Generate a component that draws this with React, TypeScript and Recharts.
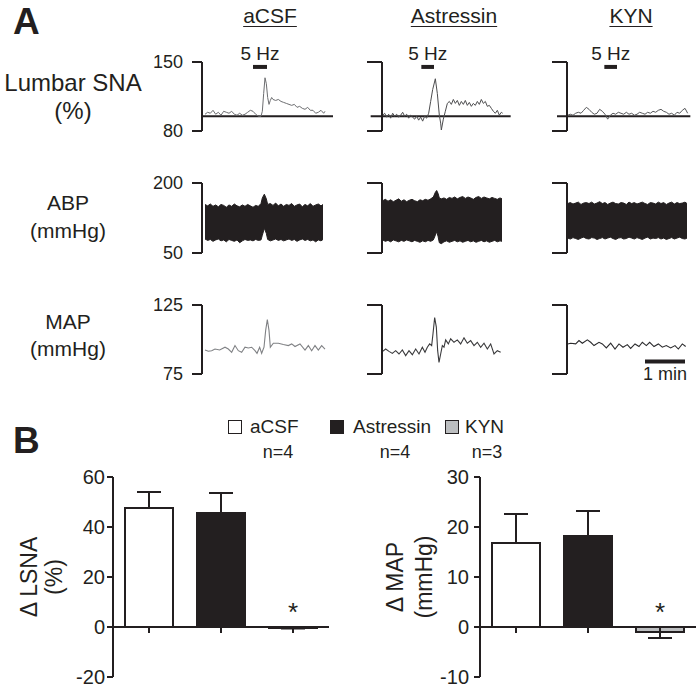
import React from 'react';
import {
  ComposedChart, Line, Area, XAxis, YAxis, ReferenceLine,
  BarChart, Bar, ErrorBar, LabelList, Cell,
} from 'recharts';

const FONT = '"Liberation Sans", Arial, Helvetica, sans-serif';
const INK = '#231f20';

// ---------------- Panel A: values ----------------
const conditions = ['aCSF', 'Astressin', 'KYN'];
const snaDomain: [number, number] = [80, 150];
const abpDomain: [number, number] = [50, 200];
const mapDomain: [number, number] = [75, 125];
const snaTicks = [80, 150];
const abpTicks = [50, 200];
const mapTicks = [75, 125];
const snaBaseline = 95;
const stimLevel = 145;
const stimLabel = '5 Hz';
const stimWindows: [number, number][] = [[72, 93], [58, 77], [55, 74]];
const baselineSpans: [number, number][] = [[-3, 192], [-18, 192], [-16, 184]];
const scaleBarSpan: [number, number] = [116, 176];
const scaleBarLevel = 84;
const scaleBarLabel = '1 min';

// Lumbar SNA (%) traces: [time s, value]
const snaACSF: [number, number][] = [
  [0, 97], [4, 99], [8, 98], [12, 101], [16, 97], [20, 99], [24, 96], [28, 100], [32, 99], [36, 98],
  [40, 100], [44, 97], [48, 96], [52, 98], [56, 96], [60, 97], [64, 99], [68, 101], [72, 100], [76, 97],
  [80, 95], [84, 95], [86, 100], [88, 118], [90, 134], [92, 128], [94, 114], [96, 107], [98, 111], [100, 114],
  [102, 112], [106, 111], [110, 112], [114, 110], [118, 109], [122, 108], [126, 107], [130, 106], [134, 107], [138, 104],
  [142, 105], [146, 103], [150, 102], [154, 104], [158, 101], [162, 101], [166, 98], [170, 99], [174, 101], [178, 98], [180, 100],
];
const snaAstressin: [number, number][] = [
  [0, 96], [3, 98], [6, 94], [9, 97], [12, 93], [15, 98], [18, 95], [21, 97], [24, 94], [27, 96],
  [30, 99], [33, 95], [36, 97], [39, 93], [42, 96], [45, 94], [48, 92], [51, 95], [54, 91], [57, 94],
  [60, 90], [63, 95], [66, 93], [69, 98], [72, 110], [75, 122], [79, 133], [82, 118], [85, 96], [87, 88],
  [88, 81], [91, 92], [94, 100], [97, 108], [100, 110], [103, 107], [106, 112], [109, 108], [112, 111], [115, 106],
  [118, 110], [121, 107], [124, 111], [127, 106], [130, 109], [133, 105], [136, 108], [139, 106], [142, 110], [145, 107],
  [148, 112], [151, 108], [154, 110], [157, 105], [160, 106], [163, 103], [166, 100], [169, 98], [172, 101], [175, 96], [178, 99], [180, 98],
];
const snaKYN: [number, number][] = [
  [0, 96], [4, 97], [8, 96], [12, 98], [16, 99], [20, 98], [24, 101], [28, 104], [32, 102], [36, 99],
  [40, 97], [44, 98], [48, 102], [52, 100], [56, 97], [60, 92], [64, 96], [68, 98], [72, 97], [76, 99],
  [80, 98], [84, 97], [88, 99], [92, 97], [96, 98], [100, 96], [104, 97], [108, 99], [112, 98], [116, 97],
  [120, 99], [124, 98], [128, 100], [132, 99], [136, 101], [140, 102], [144, 100], [148, 99], [152, 97], [156, 98],
  [160, 96], [164, 99], [168, 98], [172, 101], [176, 103], [180, 98],
];

// ABP (mmHg) envelopes: time, lower edge, upper edge
const abpACSF_t = [0, 4, 8, 12, 16, 20, 24, 28, 32, 36, 40, 44, 48, 52, 56, 60, 64, 68, 72, 76, 80, 84, 86, 89, 92, 94, 98, 102, 106, 110, 114, 118, 122, 126, 130, 134, 138, 142, 146, 150, 154, 158, 162, 166, 170, 174, 177];
const abpACSF_hi = [154, 151, 155, 150, 153, 149, 154, 152, 148, 153, 150, 155, 151, 149, 153, 150, 154, 151, 148, 152, 150, 156, 168, 176, 166, 154, 156, 152, 157, 151, 155, 150, 154, 152, 156, 150, 153, 155, 149, 154, 151, 156, 150, 153, 155, 151, 154];
const abpACSF_lo = [80, 77, 79, 75, 78, 80, 76, 78, 74, 79, 77, 75, 78, 72, 76, 79, 77, 78, 76, 79, 77, 78, 88, 103, 92, 79, 76, 78, 80, 77, 79, 76, 78, 80, 77, 79, 75, 78, 80, 77, 79, 76, 78, 74, 78, 76, 79];
const abpAst_t = [0, 4, 8, 12, 16, 20, 24, 28, 32, 36, 40, 44, 48, 52, 56, 60, 64, 68, 72, 76, 79, 81, 83, 85, 88, 92, 96, 100, 104, 108, 112, 116, 120, 124, 128, 132, 136, 140, 144, 148, 152, 156, 160, 164, 168, 172, 176, 179];
const abpAst_hi = [162, 165, 161, 164, 160, 163, 166, 161, 164, 160, 163, 165, 162, 160, 164, 162, 165, 163, 166, 170, 180, 184, 178, 168, 166, 168, 165, 169, 167, 170, 166, 169, 171, 167, 170, 168, 165, 169, 171, 167, 170, 168, 166, 169, 167, 165, 168, 166];
const abpAst_lo = [78, 75, 77, 74, 78, 76, 74, 77, 75, 78, 76, 74, 77, 75, 73, 76, 74, 77, 75, 78, 88, 96, 86, 72, 70, 74, 76, 73, 75, 77, 74, 76, 73, 75, 77, 74, 76, 73, 75, 77, 74, 76, 73, 75, 77, 74, 76, 75];
const abpKYN_t = [0, 4, 8, 12, 16, 20, 24, 28, 32, 36, 40, 44, 48, 52, 56, 60, 64, 68, 72, 76, 80, 84, 88, 92, 96, 100, 104, 108, 112, 116, 120, 124, 128, 132, 136, 140, 144, 148, 152, 156, 160, 164, 168, 172, 176, 179];
const abpKYN_hi = [156, 158, 155, 157, 159, 154, 157, 158, 156, 159, 155, 157, 160, 156, 158, 154, 157, 159, 156, 155, 158, 157, 154, 159, 156, 158, 155, 157, 159, 156, 154, 158, 157, 155, 159, 156, 158, 154, 157, 159, 155, 158, 156, 157, 159, 156];
const abpKYN_lo = [82, 80, 83, 81, 79, 82, 84, 81, 80, 83, 82, 79, 81, 83, 80, 82, 84, 81, 79, 82, 83, 80, 81, 84, 82, 80, 83, 81, 79, 82, 84, 80, 82, 81, 83, 80, 82, 79, 81, 83, 80, 82, 84, 81, 80, 82];

// MAP (mmHg) traces: [time s, value]
const mapACSF: [number, number][] = [
  [0, 92.4], [5, 91.5], [10, 91.9], [15, 93.1], [22, 92.4], [30, 94.4], [35, 93.1], [40, 90.7], [45, 95.6], [50, 91.9],
  [55, 90.7], [60, 94.4], [65, 93.9], [70, 94.4], [75, 91.9], [78, 90], [82, 94.4], [85, 90], [88.5, 94.4], [91, 106.6],
  [93.5, 114.5], [96, 106.6], [98, 94.4], [102.5, 97.3], [110, 97.3], [117.5, 96.4], [125, 95.6], [130, 96.8], [135, 94.9], [142.5, 96.8],
  [150, 92.4], [155, 95.6], [160, 91.9], [165, 95.6], [170, 92.4], [175, 95.6], [180, 93.1],
];
const mapAstressin: [number, number][] = [
  [0, 91.4], [4.5, 93.1], [9.5, 91.4], [14.5, 89.9], [19.5, 91.9], [24.5, 89.5], [29.5, 92.4], [34.5, 88.3], [39.5, 91.9], [44.5, 89],
  [49.5, 93.1], [54.5, 89.5], [59.5, 94.4], [63.5, 90.7], [67, 94.4], [70.5, 96.8], [73.5, 95.6], [75.5, 104.2], [78, 115.9], [80.5, 109],
  [82.5, 91.9], [84.5, 83.4], [87, 89.5], [89.5, 95.6], [92, 94.4], [94.5, 99.7], [98.5, 96.8], [102, 100.5], [107, 98], [112, 99.7],
  [117, 96.8], [122, 101.2], [127, 97.3], [132, 99.2], [137, 95.6], [142, 98], [147, 94.4], [152, 97.3], [157, 93.1], [162, 96.8],
  [167, 89.5], [172, 91.9], [177, 90.7],
];
const mapKYN: [number, number][] = [
  [0, 96.8], [4.5, 97.3], [12, 96.8], [17, 99.2], [22, 97.3], [29.5, 99.7], [34.5, 98], [39.5, 95.6], [47, 98], [52, 96.8],
  [58, 93.9], [64.5, 97.3], [71, 93.1], [77, 96.8], [83, 94.4], [89.5, 96.3], [94.5, 93.6], [101, 96.8], [107, 94.9], [112, 98],
  [118, 95.6], [123, 98], [129.5, 94.9], [136, 96.8], [142, 94.4], [148, 95.6], [154.5, 93.9], [161, 95.6], [166, 93.1], [172, 96.8], [177, 94.9],
];

// ---------------- Panel B: values ----------------
const groups = ['aCSF', 'Astressin', 'KYN'];
const groupN = ['n=4', 'n=4', 'n=3'];
const lsnaMean = [47.6, 45.6, -0.4];
const lsnaSem = [6.4, 8.0, 0.2];
const lsnaTicks = [-20, 0, 20, 40, 60];
const dmapMean = [16.8, 18.2, -1.0];
const dmapSem = [5.8, 5.0, 1.2];
const dmapTicks = [-10, 0, 10, 20, 30];
const significance = ['', '', '*'];
const groupFills = ['#ffffff', INK, '#bcbec0'];

// ---------------- helpers ----------------
const toRows = (pts: [number, number][]) => pts.map(([t, v]) => ({ t, v }));
const toBand = (t: number[], lo: number[], hi: number[]) => t.map((tt, i) => ({ t: tt, band: [lo[i], hi[i]] }));
const toBars = (mean: number[], sem: number[]) =>
  groups.map((g, i) => ({
    g,
    i,
    v: mean[i],
    err: mean[i] >= 0 ? [0, sem[i]] : [sem[i], 0],
    sig: significance[i],
  }));

const snaSeries = [snaACSF, snaAstressin, snaKYN].map(toRows);
const abpSeries = [
  toBand(abpACSF_t, abpACSF_lo, abpACSF_hi),
  toBand(abpAst_t, abpAst_lo, abpAst_hi),
  toBand(abpKYN_t, abpKYN_lo, abpKYN_hi),
];
const mapSeries = [mapACSF, mapAstressin, mapKYN].map(toRows);
const lsnaData = toBars(lsnaMean, lsnaSem);
const dmapData = toBars(dmapMean, dmapSem);

// layout (pixels)
const COLS = [
  { axisX: 202, xMin: -4.5, plotW: 135, axW: 60, tickLen: 10, labels: true },
  { axisX: 382, xMin: -1, plotW: 135, axW: 30, tickLen: 15, labels: false },
  { axisX: 567, xMin: -1, plotW: 125, axW: 30, tickLen: 15, labels: false },
];
const SEC_PER_PX = 1.5;

function Txt({ x, y, size, anchor = 'middle', bold = false, underline = false, children }: any) {
  const w = 400;
  const left = anchor === 'middle' ? x - w / 2 : anchor === 'end' ? x - w : x;
  return (
    <div
      style={{
        position: 'absolute', left, top: y - 20, width: w, height: 40, lineHeight: '40px',
        fontSize: size, fontWeight: bold ? 700 : 400,
        textAlign: anchor === 'middle' ? 'center' : anchor === 'end' ? 'right' : 'left',
        textDecoration: underline ? 'underline' : 'none', textDecorationThickness: underline ? 1 : undefined,
        textUnderlineOffset: underline ? 3 : undefined,
        whiteSpace: 'nowrap', color: INK, fontFamily: FONT, pointerEvents: 'none',
      }}
    >
      {children}
    </div>
  );
}

function RotTxt({ x, y, size, children }: any) {
  return (
    <div
      style={{
        position: 'absolute', left: x - 150, top: y - 20, width: 300, height: 40, lineHeight: '40px',
        textAlign: 'center', transform: 'rotate(-90deg)', fontSize: size, whiteSpace: 'nowrap',
        color: INK, fontFamily: FONT,
      }}
    >
      {children}
    </div>
  );
}

function TraceChart({ col, top, h, domain, ticks, data, extras, children, mTop = 24, mBottom = 22 }: any) {
  const c = COLS[col];
  const margin = { top: mTop, right: 4, bottom: mBottom, left: 0 };
  const width = c.axW + c.plotW + margin.right;
  const height = h + mTop + mBottom;
  const xDomain = [c.xMin, c.xMin + c.plotW * SEC_PER_PX];
  const tickStart = c.xMin - c.tickLen * SEC_PER_PX;
  return (
    <div style={{ position: 'absolute', left: c.axisX - c.axW, top: top - mTop }}>
      <ComposedChart width={width} height={height} margin={margin} data={data}>
        <XAxis type="number" dataKey="t" domain={xDomain} hide />
        <YAxis
          type="number"
          domain={domain}
          ticks={ticks}
          width={c.axW}
          interval={0}
          axisLine={{ stroke: INK, strokeWidth: 2 }}
          tickLine={false}
          tickSize={c.tickLen}
          tickMargin={9}
          tick={c.labels ? { fill: INK, fontSize: 18, fontFamily: FONT } : false}
        />
        {ticks.map((tv: number) => (
          <ReferenceLine
            key={'bt' + tv}
            segment={[{ x: tickStart, y: tv }, { x: c.xMin, y: tv }]}
            stroke={INK}
            strokeWidth={2}
            ifOverflow="visible"
          />
        ))}
        {extras}
        {children}
      </ComposedChart>
    </div>
  );
}

const starLabel = (p: any) => {
  if (!p.value) return null;
  const vb = p.viewBox && p.viewBox.width !== undefined ? p.viewBox : p;
  const top = Math.min(vb.y, vb.y + vb.height);
  return (
    <text x={vb.x + vb.width / 2} y={top - 6} textAnchor="middle" fontSize={26} fill={INK} fontFamily={FONT}>
      {p.value}
    </text>
  );
};

function BarPanel({ left, data, domain, ticks, tickDrop, tickMargin, plotW }: any) {
  const axW = 60;
  const margin = { top: 20, right: 0, bottom: 14, left: 0 };
  const band = plotW / groups.length;
  const yTickLen = 6 / band;
  return (
    <div style={{ position: 'absolute', left: left - axW, top: 477 - margin.top }}>
      <BarChart width={axW + plotW} height={200 + margin.top + margin.bottom} margin={margin} data={data} barSize={48}>
        <XAxis dataKey="g" hide />
        <XAxis xAxisId="pos" type="number" dataKey="i" domain={[-0.5, groups.length - 0.5]} hide />
        <YAxis
          type="number"
          domain={domain}
          ticks={ticks}
          interval={0}
          width={axW}
          axisLine={{ stroke: INK, strokeWidth: 2 }}
          tickLine={false}
          tickSize={6}
          tickMargin={tickMargin}
          tick={{ fill: INK, fontSize: 20, fontFamily: FONT }}
        />
        <Bar dataKey="v" stroke={INK} strokeWidth={2} isAnimationActive={false}>
          {data.map((d: any, i: number) => (
            <Cell key={d.g} fill={groupFills[i]} />
          ))}
          <ErrorBar dataKey="err" direction="y" width={12} stroke={INK} strokeWidth={2} />
          <LabelList dataKey="sig" content={starLabel} />
        </Bar>
        <ReferenceLine y={0} stroke={INK} strokeWidth={2} ifOverflow="visible" />
        {ticks.map((tv: number) => (
          <ReferenceLine
            key={'yt' + tv}
            xAxisId="pos"
            segment={[{ x: -0.5 - yTickLen, y: tv }, { x: -0.5, y: tv }]}
            stroke={INK}
            strokeWidth={2}
            ifOverflow="visible"
          />
        ))}
        {data.map((d: any) => (
          <ReferenceLine
            key={'xt' + d.g}
            xAxisId="pos"
            segment={[{ x: d.i, y: 0 }, { x: d.i, y: -tickDrop }]}
            stroke={INK}
            strokeWidth={2}
            ifOverflow="visible"
          />
        ))}
      </BarChart>
    </div>
  );
}

const traceStroke = ['#6d6e71', '#4d4d4f', '#58595b'];
const mapStroke = ['#808285', '#3a3a3c', '#2b2b2d'];
const titleX = [270, 454, 631];

export default function App() {
  return (
    <div
      style={{
        position: 'absolute', left: 0, top: 0, width: 696, height: 694, overflow: 'hidden',
        background: '#ffffff', fontFamily: FONT, color: INK,
      }}
    >
      {/* Panel letters */}
      <Txt x={13} y={22} size={37} anchor="start" bold>A</Txt>
      <Txt x={13} y={441} size={37} anchor="start" bold>B</Txt>

      {/* Column titles */}
      {conditions.map((c, i) => (
        <Txt key={c} x={titleX[i]} y={16} size={21} underline>{c}</Txt>
      ))}

      {/* Row labels */}
      <Txt x={73} y={83} size={24}>Lumbar SNA</Txt>
      <Txt x={73} y={111} size={24}>(%)</Txt>
      <Txt x={68} y={203} size={21}>ABP</Txt>
      <Txt x={68} y={231} size={21}>(mmHg)</Txt>
      <Txt x={68} y={322} size={21}>MAP</Txt>
      <Txt x={68} y={349} size={21}>(mmHg)</Txt>

      {/* SNA row */}
      {snaSeries.map((rows, i) => (
        <TraceChart
          key={'sna' + i}
          col={i}
          top={62}
          h={69}
          domain={snaDomain}
          ticks={snaTicks}
          data={rows}
          extras={[
            <ReferenceLine
              key="base"
              segment={[{ x: baselineSpans[i][0], y: snaBaseline }, { x: baselineSpans[i][1], y: snaBaseline }]}
              stroke={INK}
              strokeWidth={2}
              ifOverflow="visible"
            />,
            <ReferenceLine
              key="stim"
              segment={[{ x: stimWindows[i][0], y: stimLevel }, { x: stimWindows[i][1], y: stimLevel }]}
              stroke={INK}
              strokeWidth={4}
              ifOverflow="visible"
              label={{ value: stimLabel, position: 'top', offset: 7, fill: INK, fontSize: 19, fontFamily: FONT }}
            />,
          ]}
        >
          <Line type="linear" dataKey="v" stroke={traceStroke[i]} strokeWidth={1} dot={false} isAnimationActive={false} />
        </TraceChart>
      ))}

      {/* ABP row */}
      {abpSeries.map((rows, i) => (
        <TraceChart key={'abp' + i} col={i} top={183} h={70} domain={abpDomain} ticks={abpTicks} data={rows} extras={[]}>
          <Area
            type="linear"
            dataKey="band"
            stroke={INK}
            strokeWidth={1}
            fill={INK}
            fillOpacity={1}
            dot={false}
            isAnimationActive={false}
          />
        </TraceChart>
      ))}

      {/* MAP row */}
      {mapSeries.map((rows, i) => (
        <TraceChart
          key={'map' + i}
          col={i}
          top={305}
          h={69}
          domain={mapDomain}
          ticks={mapTicks}
          data={rows}
          extras={
            i === 2
              ? [
                  <ReferenceLine
                    key="scale"
                    segment={[{ x: scaleBarSpan[0], y: scaleBarLevel }, { x: scaleBarSpan[1], y: scaleBarLevel }]}
                    stroke={INK}
                    strokeWidth={4}
                    ifOverflow="visible"
                    label={{ value: scaleBarLabel, position: 'bottom', offset: 6, fill: INK, fontSize: 18, fontFamily: FONT }}
                  />,
                ]
              : []
          }
        >
          <Line type="linear" dataKey="v" stroke={mapStroke[i]} strokeWidth={1.1} dot={false} isAnimationActive={false} />
        </TraceChart>
      ))}

      {/* Panel B legend */}
      {[228, 330, 445].map((bx, i) => (
        <div
          key={groups[i]}
          style={{
            position: 'absolute', left: bx, top: 420, width: 14, height: 14, boxSizing: 'border-box',
            background: groupFills[i], border: `1.5px solid ${INK}`,
          }}
        />
      ))}
      {[250, 353, 465].map((tx, i) => (
        <Txt key={'lt' + i} x={tx} y={427} size={19} anchor="start">{groups[i]}</Txt>
      ))}
      {[278, 395, 487].map((nx, i) => (
        <Txt key={'n' + i} x={nx} y={452} size={18}>{groupN[i]}</Txt>
      ))}

      {/* Axis titles */}
      <RotTxt x={29} y={577} size={23}>Δ LSNA</RotTxt>
      <RotTxt x={54} y={577} size={23}>(%)</RotTxt>
      <RotTxt x={395} y={577} size={23}>Δ MAP</RotTxt>
      <RotTxt x={424} y={577} size={23}>(mmHg)</RotTxt>

      <BarPanel left={113} plotW={216} data={lsnaData} domain={[-20, 60]} ticks={lsnaTicks} tickDrop={2.4} tickMargin={2} />
      <BarPanel left={480} plotW={216} data={dmapData} domain={[-10, 30]} ticks={dmapTicks} tickDrop={1.2} tickMargin={5} />
    </div>
  );
}
